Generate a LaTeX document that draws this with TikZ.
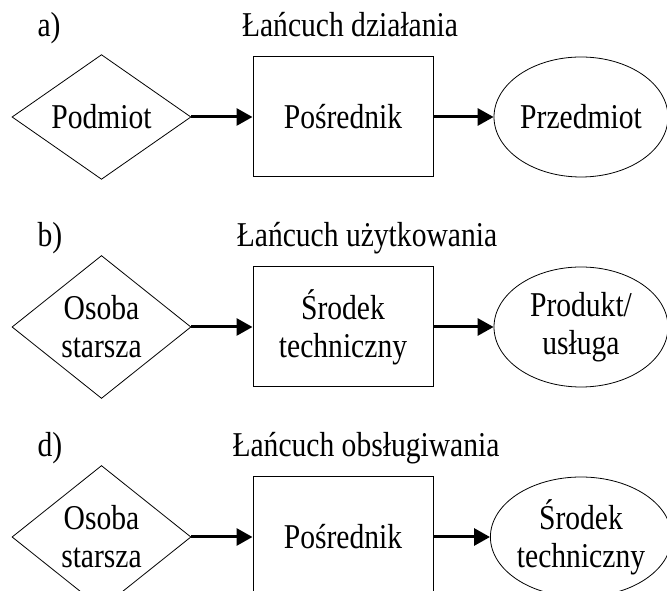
\documentclass[tikz,border=0pt]{standalone}
\usepackage{fontspec}
\setmainfont{Liberation Serif}[FakeStretch=0.85]
\usetikzlibrary{shapes.geometric,arrows.meta}

\begin{document}
\begin{tikzpicture}[x=1pt,y=1pt,font=\fontsize{34.8}{38}\selectfont,
  romb/.style={draw, diamond, line width=0.8pt, inner sep=0pt, align=center,
    minimum width=179pt, minimum height=120pt},
  prost/.style={draw, rectangle, line width=1pt, inner sep=0pt, align=center,
    minimum width=180pt, minimum height=120pt},
  elipsa/.style={draw, ellipse, line width=0.8pt, inner sep=0pt, align=center,
    minimum width=174pt, minimum height=120pt},
  strz/.style={draw, line width=3pt, -{Triangle[length=16pt,width=17pt]}}]
\useasboundingbox (0,0) rectangle (667,591);
\clip (0,0) rectangle (667,591);
\newcommand\lancuch[6]{
\node[anchor=base west] (lit) at (34,80) {#1};
\node[anchor=base] (tyt) at (#2,80) {#3};
\node[romb] (pod) at (101.5,0) {#4};
\node[prost] (pos) at (343,0) {#5};
\node[elipsa] (prz) at (581,0) {#6};
\path[strz] (pod) -- (pos);
\path[strz] (pos) -- (prz);
}
\begin{scope}[yshift=474pt]
\lancuch{a)}{350}{Łańcuch działania}{Podmiot}{Pośrednik}{Przedmiot}
\end{scope}
\begin{scope}[yshift=264pt]
\lancuch{b)}{367}{Łańcuch użytkowania}{Osoba\\starsza}{Środek\\techniczny}{Produkt/\\usługa}
\end{scope}
\begin{scope}[yshift=54pt]
\lancuch{d)}{366}{Łańcuch obsługiwania}{Osoba\\starsza}{Pośrednik}{Środek\\techniczny}
\end{scope}
\end{tikzpicture}
\end{document}
